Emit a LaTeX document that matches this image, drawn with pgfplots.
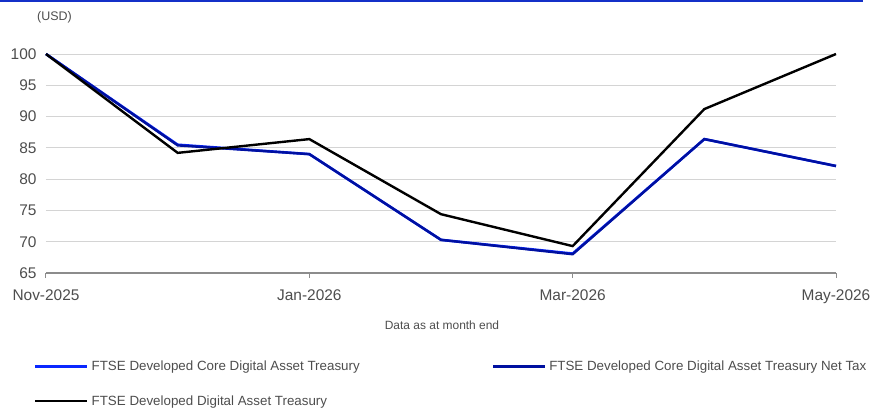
\documentclass[border=0pt]{standalone}
\usepackage{pgfplots}
\pgfplotsset{compat=1.18}
\usepackage{fontspec}
\setmainfont{Liberation Sans}
\definecolor{txtgray}{HTML}{4D4D4D}
\definecolor{gridgray}{HTML}{D4D4D4}
\definecolor{axgray}{HTML}{8C8C8C}
\definecolor{brightblue}{HTML}{0A28FF}
\definecolor{navy}{HTML}{0010A0}
\definecolor{topblue}{HTML}{1430C8}
\begin{document}
\begin{tikzpicture}
\begin{axis}[
  scale only axis, width=790bp, height=219bp,
  xmin=0, xmax=6, ymin=65, ymax=100,
  clip=false,
  xtick={0,2,4,6},
  xticklabels={Nov-2025,Jan-2026,Mar-2026,May-2026},
  ytick={65,70,75,80,85,90,95,100},
  axis x line*=bottom, axis y line*=left,
  x axis line style={axgray, line width=1.3bp, -},
  y axis line style={draw=none},
  ymajorgrids,
  grid style={gridgray, line width=0.9bp},
  xtick style={axgray, line width=1bp},
  xtick align=outside,
  major tick length=5bp,
  ytick style={draw=none},
  ticklabel style={text=txtgray, font=\fontsize{15.5}{18}\selectfont},
  /pgf/number format/assume math mode=true,
  xticklabel style={yshift=-8bp},
  yticklabel style={xshift=-6bp},
  legend columns=2,
  legend cell align=left,
  legend style={draw=none, fill=none, inner sep=0pt, at={(-0.0152,-0.391)}, anchor=north west,
    font=\fontsize{13.4}{16}\selectfont, text=txtgray,
    /tikz/every even column/.append style={column sep=130bp},
    /tikz/every odd column/.append style={column sep=1bp},
    row sep=19.5bp},
  legend image code/.code={\draw[#1, line width=2.5bp] (0bp,0bp) -- (52bp,0bp);},
]
\addplot[brightblue, line width=2.6bp] coordinates {(0,100) (1,85.5) (2,84.0) (3,70.3) (4,68.1) (5,86.4) (6,82.1)};
\addlegendentry{FTSE Developed Core Digital Asset Treasury}
\addplot[navy, line width=2.4bp] coordinates {(0,100) (1,85.4) (2,84.0) (3,70.3) (4,68.0) (5,86.4) (6,82.1)};
\addlegendentry{FTSE Developed Core Digital Asset Treasury Net Tax}
\addplot[black, line width=2.4bp] coordinates {(0,100) (1,84.2) (2,86.4) (3,74.4) (4,69.3) (5,91.2) (6,100)};
\addlegendentry{FTSE Developed Digital Asset Treasury}
\coordinate (O) at (rel axis cs:0,0);
\end{axis}
\pgfresetboundingbox
\begin{scope}[shift={(O)}, x=1bp, y=1bp]
\path[use as bounding box] (-46,-135) rectangle (824,273);
\draw[topblue, line width=1.5bp] (-46,272) -- (817,272);
\node[anchor=west, text=txtgray, font=\fontsize{12.5}{14}\selectfont, inner sep=0pt] at (-9,256) {(USD)};
\node[anchor=center, text=txtgray, font=\fontsize{12}{14}\selectfont, inner sep=0pt] at (396,-52) {Data as at month end};
\end{scope}
\end{tikzpicture}
\end{document}
